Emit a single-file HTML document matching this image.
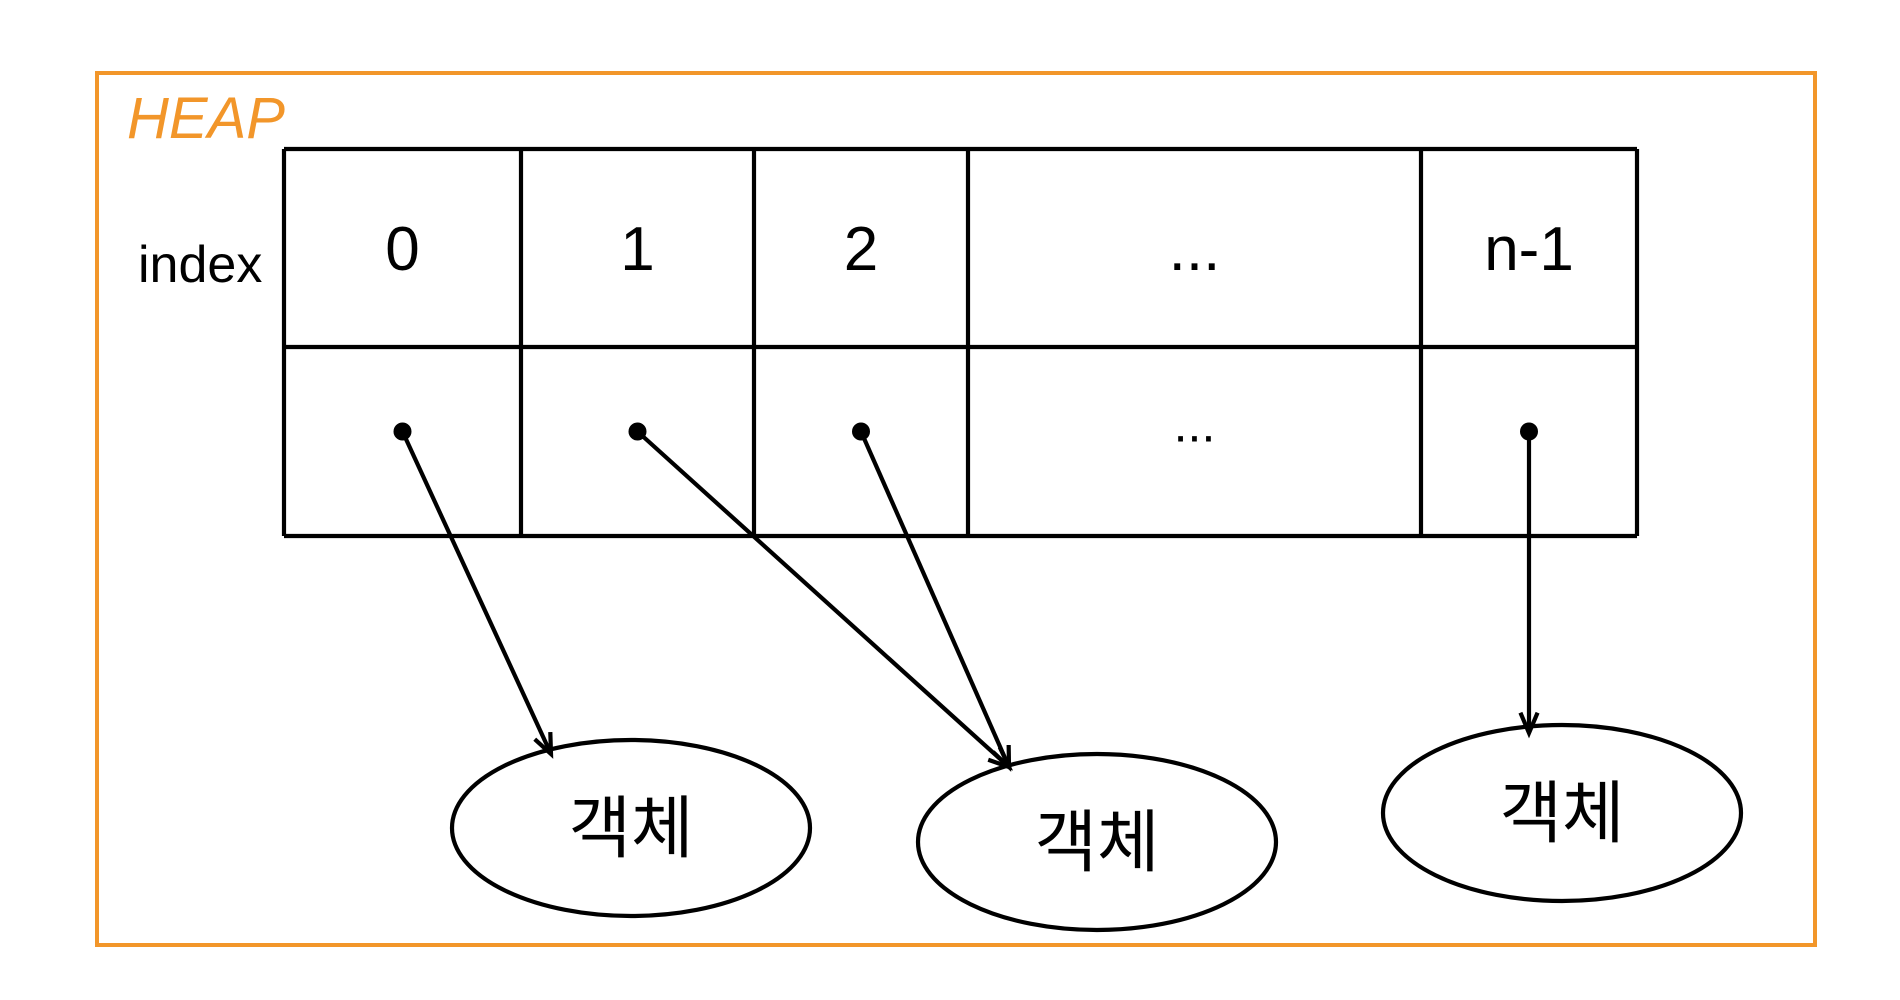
<!DOCTYPE html>
<html><head><meta charset="utf-8"><style>
html,body{margin:0;padding:0;background:#fff;width:1900px;height:1000px;overflow:hidden}
svg{display:block}
text{font-family:"Liberation Sans","Noto Sans CJK KR",sans-serif}
</style></head><body>
<svg id="c" width="1900" height="1000" viewBox="0 0 1900 1000">
<rect x="97" y="73" width="1718" height="872" fill="none" stroke="#f2962a" stroke-width="4"/>
<text x="127" y="138" font-size="58" fill="#f2962a" font-style="italic" font-family="Liberation Sans, sans-serif">HEAP</text>
<text x="138" y="282" font-size="52" fill="#000">index</text>
<g id="tbl"></g>
<g id="arrows"></g>
<g id="objs"></g>
</svg>
<script>
const indexLabels=["0","1","2","...","n-1"];
const colEdges=[284,521,754,968,1421,1637];
const rowEdges=[149,347,536];
const objCenters=[[631,828],[1097,842],[1562,813]];
const refTargets=[0,1,1,null,2];
const NS="http://www.w3.org/2000/svg";
const SW=4.2;
function mk(tag,attrs,parent){const e=document.createElementNS(NS,tag);for(const k in attrs)e.setAttribute(k,attrs[k]);parent.appendChild(e);return e;}
const tbl=document.getElementById('tbl'),ar=document.getElementById('arrows'),ob=document.getElementById('objs');
const L=colEdges[0],R=colEdges[colEdges.length-1];
rowEdges.forEach((y,i)=>{const l=mk('line',{x1:L,y1:y,x2:R,y2:y,stroke:'#000','stroke-width':SW},tbl);

});
colEdges.forEach((x,i)=>{const l=mk('line',{x1:x,y1:rowEdges[0],x2:x,y2:rowEdges[2],stroke:'#000','stroke-width':SW},tbl);

});
objCenters.forEach((c,i)=>{const e=mk('ellipse',{cx:c[0],cy:c[1],rx:179,ry:88,fill:'none',stroke:'#000','stroke-width':SW},ob);


const t=mk('text',{x:c[0],y:c[1]+24,'font-size':68,'text-anchor':'middle',fill:'#000'},ob);t.textContent='객체';

});
const ry=(rowEdges[0]+rowEdges[1])/2+22,dy=(rowEdges[1]+rowEdges[2])/2-10;
indexLabels.forEach((lab,i)=>{const cx=(colEdges[i]+colEdges[i+1])/2;
const t=mk('text',{x:cx,y:ry,'font-size':62,'text-anchor':'middle',fill:'#000'},tbl);t.textContent=lab;


const tg=refTargets[i];
if(tg===null){const d=mk('text',{x:cx,y:dy+10,'font-size':50,'text-anchor':'middle',fill:'#000'},tbl);d.textContent='...';

return;}
const dot=mk('circle',{cx:cx,cy:dy,r:9,fill:'#000'},ar);


const o=objCenters[tg];let tx=o[0],ty=o[1]-88;
if(tg===0){tx=o[0]-80;ty=o[1]-74;} if(tg===1){tx=o[0]-88;ty=o[1]-75;} if(tg===2){tx=cx;ty=o[1]-80;}
const ln=mk('line',{x1:cx,y1:dy,x2:tx,y2:ty,stroke:'#000','stroke-width':SW},ar);


const a=Math.atan2(ty-dy,tx-cx),h=22;
const p=mk('polyline',{points:`${tx-h*Math.cos(a-0.4)},${ty-h*Math.sin(a-0.4)} ${tx},${ty} ${tx-h*Math.cos(a+0.4)},${ty-h*Math.sin(a+0.4)}`,fill:'none',stroke:'#000','stroke-width':SW},ar);

});
</script>
</body></html>
